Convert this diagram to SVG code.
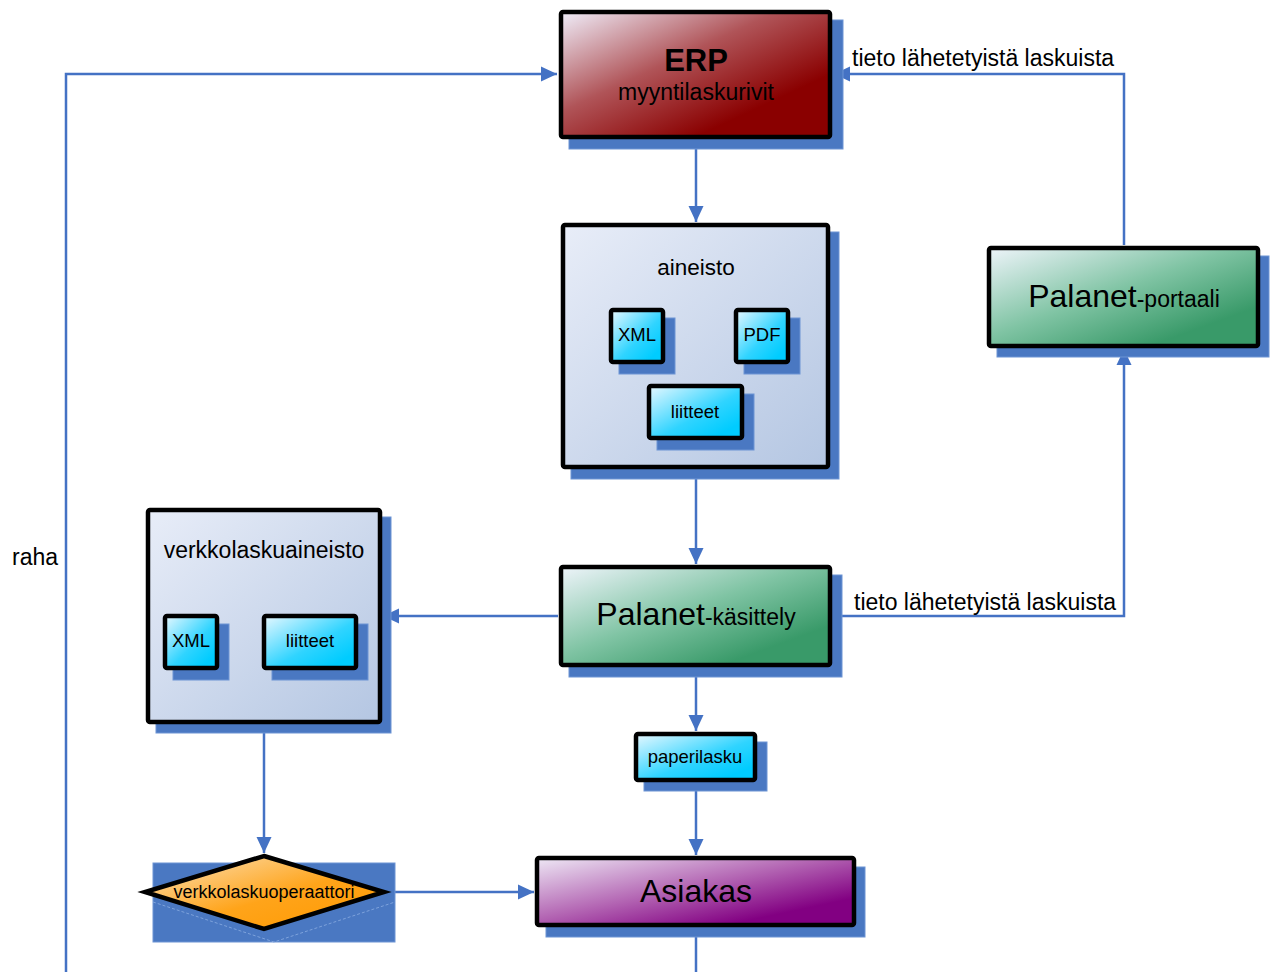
<svg xmlns="http://www.w3.org/2000/svg" width="1276" height="972" viewBox="0 0 1276 972">
<defs>
<linearGradient id="gRed" x1="0" y1="0" x2="1" y2="1"><stop offset="0" stop-color="#f0eefa"/><stop offset="0.4" stop-color="#b05458"/><stop offset="0.75" stop-color="#8a0000"/></linearGradient>
<linearGradient id="gGreen" x1="0" y1="0" x2="1" y2="1"><stop offset="0" stop-color="#eef4fa"/><stop offset="0.45" stop-color="#80c4a4"/><stop offset="0.8" stop-color="#399a69"/></linearGradient>
<linearGradient id="gCyan" x1="0" y1="0" x2="1" y2="1"><stop offset="0" stop-color="#e8f8ff"/><stop offset="0.55" stop-color="#30d4ff"/><stop offset="0.85" stop-color="#00ccff"/></linearGradient>
<linearGradient id="gBlue" x1="0" y1="0" x2="1" y2="1"><stop offset="0" stop-color="#e8edf8"/><stop offset="1" stop-color="#b4c6e2"/></linearGradient>
<linearGradient id="gPurple" x1="0" y1="0" x2="1" y2="1"><stop offset="0" stop-color="#eee8f5"/><stop offset="0.45" stop-color="#b467b4"/><stop offset="0.8" stop-color="#820082"/></linearGradient>
<linearGradient id="gOrange" x1="0" y1="0" x2="1" y2="1"><stop offset="0" stop-color="#fbe4c0"/><stop offset="0.55" stop-color="#ffa41a"/><stop offset="1" stop-color="#ff9900"/></linearGradient>
<marker id="arr" markerUnits="userSpaceOnUse" markerWidth="17" markerHeight="17" refX="16" refY="8.5" orient="auto"><path d="M0,1 L16,8.5 L0,16 Z" fill="#4472c4"/></marker>
<style>
.sh{fill:#4a78c2;stroke:#6c94d4;stroke-width:1}
.bx{stroke:#000;stroke-width:4.5}
.t{font-family:"Liberation Sans",Arial,sans-serif;fill:#000;text-anchor:middle}
.l{font-family:"Liberation Sans",Arial,sans-serif;fill:#000;font-size:23px}
.c{fill:none;stroke:#4472c4;stroke-width:2.5}
</style>
</defs>
<rect width="1276" height="972" fill="#fff"/>

<g id="connectors">
<path class="c" d="M66,972 V74 H557" marker-end="url(#arr)"/>
<path class="c" d="M696,139 V222" marker-end="url(#arr)"/>
<path class="c" d="M696,470 V564" marker-end="url(#arr)"/>
<path class="c" d="M558,616 H383" marker-end="url(#arr)"/>
<path class="c" d="M834,616 H1124 V349" marker-end="url(#arr)"/>
<path class="c" d="M1124,245 V74 H834" marker-end="url(#arr)"/>
<path class="c" d="M696,668 V731" marker-end="url(#arr)"/>
<path class="c" d="M696,783 V855" marker-end="url(#arr)"/>
<path class="c" d="M264,725 V853" marker-end="url(#arr)"/>
<path class="c" d="M385,892 H534" marker-end="url(#arr)"/>
<path class="c" d="M696,928 V972"/>
<text class="l" x="12" y="565">raha</text>
<text class="l" x="852" y="66">tieto lähetetyistä laskuista</text>
<text class="l" x="854" y="610">tieto lähetetyistä laskuista</text>
</g>

<g id="erp">
<rect class="sh" x="569" y="20" width="274" height="129"/>
<rect class="bx" x="561" y="12" width="269" height="125" rx="2" fill="url(#gRed)"/>
<text class="t" x="696" y="71" font-size="31" font-weight="bold">ERP</text>
<text class="t" x="696" y="100" font-size="23">myyntilaskurivit</text>
</g>

<g id="aineisto">
<rect class="sh" x="571" y="232" width="268" height="247"/>
<rect class="bx" x="563" y="225" width="265" height="242" rx="2" fill="url(#gBlue)"/>
<text class="t" x="696" y="275" font-size="22.5">aineisto</text>
</g>
<g id="xml1">
<rect class="sh" x="619" y="318" width="56" height="56"/>
<rect class="bx" x="611" y="310" width="52" height="52" rx="2" fill="url(#gCyan)"/>
<text class="t" x="637" y="341" font-size="18.5">XML</text>
</g>
<g id="pdf">
<rect class="sh" x="744" y="318" width="56" height="56"/>
<rect class="bx" x="736" y="310" width="52" height="52" rx="2" fill="url(#gCyan)"/>
<text class="t" x="762" y="341" font-size="18.5">PDF</text>
</g>
<g id="liitteet1">
<rect class="sh" x="657" y="394" width="97" height="56"/>
<rect class="bx" x="649" y="386" width="93" height="52" rx="2" fill="url(#gCyan)"/>
<text class="t" x="695" y="418" font-size="18.5">liitteet</text>
</g>

<g id="verkkolaskuaineisto">
<rect class="sh" x="156" y="517" width="235" height="216"/>
<rect class="bx" x="148" y="510" width="232" height="212" rx="2" fill="url(#gBlue)"/>
<text class="t" x="264" y="558" font-size="23">verkkolaskuaineisto</text>
</g>
<g id="xml2">
<rect class="sh" x="173" y="624" width="56" height="56"/>
<rect class="bx" x="165" y="616" width="52" height="52" rx="2" fill="url(#gCyan)"/>
<text class="t" x="191" y="647" font-size="18.5">XML</text>
</g>
<g id="liitteet2">
<rect class="sh" x="272" y="624" width="96" height="56"/>
<rect class="bx" x="264" y="616" width="92" height="52" rx="2" fill="url(#gCyan)"/>
<text class="t" x="310" y="647" font-size="18.5">liitteet</text>
</g>

<g id="kasittely">
<rect class="sh" x="569" y="575" width="273" height="102"/>
<rect class="bx" x="561" y="567" width="269" height="98" rx="2" fill="url(#gGreen)"/>
<text class="t" x="696" y="625"><tspan font-size="32">Palanet</tspan><tspan font-size="23">-käsittely</tspan></text>
</g>

<g id="portaali">
<rect class="sh" x="997" y="256" width="272" height="101"/>
<rect class="bx" x="989" y="248" width="269" height="98" rx="2" fill="url(#gGreen)"/>
<text class="t" x="1124" y="307"><tspan font-size="32">Palanet</tspan><tspan font-size="23">-portaali</tspan></text>
</g>

<g id="paperilasku">
<rect class="sh" x="644" y="742" width="123" height="49"/>
<rect class="bx" x="636" y="734" width="119" height="46" rx="2" fill="url(#gCyan)"/>
<text class="t" x="695" y="763" font-size="18.5">paperilasku</text>
</g>

<g id="operaattori">
<rect class="sh" x="153" y="863" width="242" height="79"/>
<path d="M153,902 L274,942 L395,902" fill="none" stroke="#7da2dc" stroke-width="1" stroke-dasharray="3,2"/>
<polygon points="264,856 384,892 264,929 145,892" fill="url(#gOrange)" stroke="#000" stroke-width="4.5" stroke-linejoin="miter"/>
<text class="t" x="264" y="898" font-size="18">verkkolaskuoperaattori</text>
</g>

<g id="asiakas">
<rect class="sh" x="546" y="867" width="319" height="70"/>
<rect class="bx" x="537" y="858" width="317" height="67" rx="2" fill="url(#gPurple)"/>
<text class="t" x="696" y="902" font-size="32">Asiakas</text>
</g>
</svg>
